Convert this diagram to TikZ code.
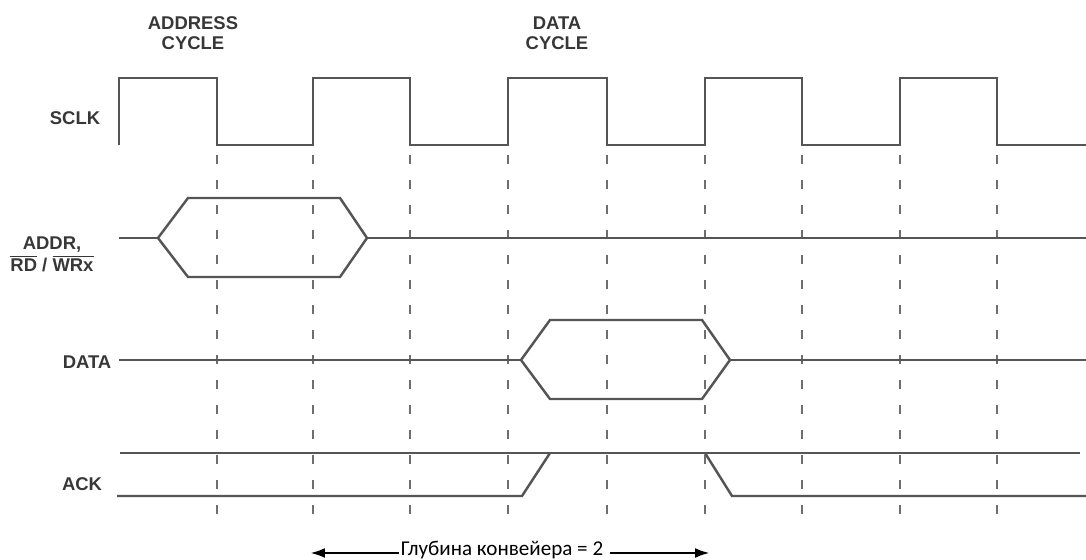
\documentclass[tikz,border=0pt]{standalone}
\usepackage{fontspec}
\setmainfont{Liberation Sans}
\newfontfamily\rufont{Carlito}
\usetikzlibrary{arrows.meta}
\definecolor{wire}{RGB}{85,85,85}
\definecolor{ink}{RGB}{55,55,55}
\begin{document}
\begin{tikzpicture}[x=0.02cm,y=-0.02cm,
  signal/.style={line width=1.4pt,color=wire},
  guide/.style={line width=1.1pt,color=wire!85,dash pattern=on 0.18cm off 0.32cm},
  lbl/.style={font=\fontsize{10.5}{11.4}\selectfont\bfseries,text=ink,inner sep=0pt,align=center},
  pipe/.style={line width=1.6pt,-{Latex[length=0.3cm,width=0.2cm]}}]
  \useasboundingbox (0,0) rectangle (1086,560);
  % clock edges
  \foreach \x in {217,313,410,508,607,705,802,900,997}
    \draw[guide] (\x,155) -- (\x,516);
  % SCLK
  \draw[signal] (119,145)
    \foreach \a/\b in {119/217,313/410,508/607,705/802,900/997}
      { -- (\a,145) -- (\a,78) -- (\b,78) -- (\b,145) }
    -- (1086,145);
  % ADDR, RD/WRx
  \draw[signal] (119,238) -- (158,238);
  \draw[signal] (158,238) -- (188,198) -- (340,198) -- (367,238)
    -- (340,277) -- (188,277) -- cycle;
  \draw[signal] (367,238) -- (1086,238);
  % DATA
  \draw[signal] (119,360) -- (521,360);
  \draw[signal] (521,360) -- (550,320) -- (702,320) -- (730,360)
    -- (702,399) -- (550,399) -- cycle;
  \draw[signal] (730,360) -- (1086,360);
  % ACK
  \draw[signal] (120,453) -- (1080,453);
  \draw[signal] (117,496) -- (522,496) -- (550,453);
  \draw[signal] (705,453) -- (732,496) -- (1086,496);
  % labels
  \node[lbl] (addrcyc) at (193,33) {ADDRESS\\CYCLE};
  \node[lbl] (datacyc) at (557,33) {DATA\\CYCLE};
  \node[lbl] (sclk) at (75,118) {SCLK};
  \node[lbl,font=\fontsize{10.5}{12.5}\selectfont\bfseries] (addr) at (52,254)
    {ADDR,\\$\overline{\mbox{RD}}$ / $\overline{\mbox{WRx}}$};
  \node[lbl] (data) at (87,362) {DATA};
  \node[lbl] (ack) at (82,484) {ACK};
  % pipeline depth
  \coordinate (dl) at (310,553);
  \coordinate (dr) at (710,553);
  \node[font=\rufont\fontsize{12}{14}\selectfont,anchor=base,inner xsep=1pt,
    inner ysep=0pt] (depth) at (502,556) {Глубина конвейера = 2};
  \draw[pipe] (depth.west |- dl) -- (dl);
  \draw[pipe] ([xshift=0.1cm]depth.east |- dr) -- (dr);
\end{tikzpicture}
\end{document}
